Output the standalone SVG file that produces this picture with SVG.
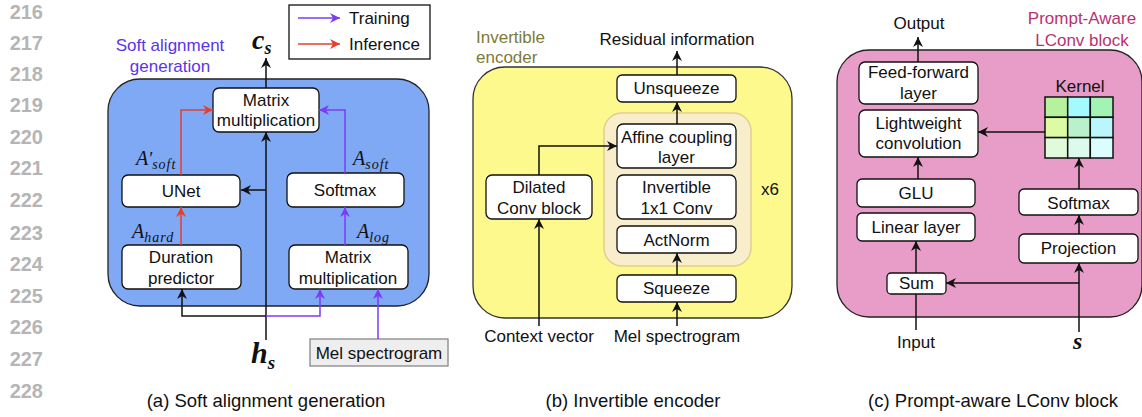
<svg xmlns="http://www.w3.org/2000/svg" width="1142" height="417" viewBox="0 0 1142 417">
<defs>
<style>
.ln{font-family:"Liberation Sans",Arial,sans-serif;font-weight:bold;font-size:20px;fill:#b5b5b5;text-anchor:end}
.t{font-family:"Liberation Sans",Arial,sans-serif;font-size:17px;fill:#111;text-anchor:middle}
.cap{font-family:"Liberation Sans",Arial,sans-serif;font-size:18.5px;fill:#111;text-anchor:middle}
.box{fill:#fff;stroke:#111;stroke-width:1.3}
.m{font-family:"Liberation Serif","Times New Roman",serif;font-style:italic;fill:#111}
.sub{font-size:14px;letter-spacing:1px}
.e{fill:none;stroke:#111;stroke-width:1.5}
.ep{fill:none;stroke:#7b3cf6;stroke-width:1.5}
.er{fill:none;stroke:#e5402e;stroke-width:1.5}
.cell{stroke:#111;stroke-width:1.5}
</style>
<marker id="ak" markerUnits="userSpaceOnUse" markerWidth="12" markerHeight="10" refX="10" refY="5" orient="auto"><path d="M0,0 L10,5 L0,10 L3,5 z" fill="#111"/></marker>
<marker id="ap" markerUnits="userSpaceOnUse" markerWidth="12" markerHeight="10" refX="10" refY="5" orient="auto"><path d="M0,0 L10,5 L0,10 L3,5 z" fill="#7b3cf6"/></marker>
<marker id="ar" markerUnits="userSpaceOnUse" markerWidth="12" markerHeight="10" refX="10" refY="5" orient="auto"><path d="M0,0 L10,5 L0,10 L3,5 z" fill="#e5402e"/></marker>
</defs>
<rect width="1142" height="417" fill="#fff"/>
<g id="line-numbers">
<text class="ln" x="43" y="19">216</text>
<text class="ln" x="43" y="50">217</text>
<text class="ln" x="43" y="81">218</text>
<text class="ln" x="43" y="112">219</text>
<text class="ln" x="43" y="144">220</text>
<text class="ln" x="43" y="175">221</text>
<text class="ln" x="43" y="207">222</text>
<text class="ln" x="43" y="240">223</text>
<text class="ln" x="43" y="271">224</text>
<text class="ln" x="43" y="303">225</text>
<text class="ln" x="43" y="334">226</text>
<text class="ln" x="43" y="366">227</text>
<text class="ln" x="43" y="398">228</text>
</g>
<g id="panel-a">
<rect x="108" y="79" width="321" height="227" rx="32" fill="#7fa8f5" stroke="#222" stroke-width="1.3"/>
<text x="170" y="51" font-family="Liberation Sans,Arial,sans-serif" font-size="17" fill="#5a35e6" text-anchor="middle">Soft alignment</text>
<text x="170" y="72" font-family="Liberation Sans,Arial,sans-serif" font-size="17" fill="#5a35e6" text-anchor="middle">generation</text>
<text class="m" x="252" y="49" font-size="28" font-weight="bold">c<tspan font-size="18" dy="5">s</tspan></text>
<text class="m" x="251" y="363" font-size="30" font-weight="bold">h<tspan font-size="19" dy="6">s</tspan></text>
</g>
<g id="legend">
<rect x="289" y="5" width="141" height="54" fill="#fff" stroke="#111" stroke-width="1.3"/>
<line class="ep" x1="298" y1="18" x2="340" y2="18" marker-end="url(#ap)"/>
<line class="er" x1="298" y1="44" x2="340" y2="44" marker-end="url(#ar)"/>
<text x="349" y="24" font-family="Liberation Sans,Arial,sans-serif" font-size="17" fill="#111">Training</text>
<text x="349" y="50" font-family="Liberation Sans,Arial,sans-serif" font-size="17" fill="#111">Inference</text>
</g>
<g id="node-matmul-top"><rect class="box" x="213" y="88" width="106" height="44" rx="6"/><text class="t" x="266" y="106">Matrix</text><text class="t" x="266" y="126">multiplication</text></g>
<g id="node-unet"><rect class="box" x="122" y="175" width="118" height="32" rx="6"/><text class="t" x="181" y="197">UNet</text></g>
<g id="node-softmax-a"><rect class="box" x="287" y="173" width="117" height="34" rx="6"/><text class="t" x="345" y="196">Softmax</text></g>
<g id="node-duration"><rect class="box" x="122" y="245" width="119" height="44" rx="6"/><text class="t" x="181" y="263">Duration</text><text class="t" x="181" y="284">predictor</text></g>
<g id="node-matmul-bottom"><rect class="box" x="289" y="245" width="119" height="44" rx="6"/><text class="t" x="348" y="263">Matrix</text><text class="t" x="348" y="284">multiplication</text></g>
<g id="node-mel-a"><rect x="310" y="339" width="138" height="27" fill="#eeeeee" stroke="#888" stroke-width="1.3"/><text class="t" x="379" y="359">Mel spectrogram</text></g>
<g id="labels-a">
<text class="m" x="136" y="165" font-size="20">A<tspan font-size="18">′</tspan><tspan class="sub" dy="4">soft</tspan></text>
<text class="m" x="353" y="165" font-size="20">A<tspan class="sub" dy="4">soft</tspan></text>
<text class="m" x="132" y="238" font-size="20">A<tspan class="sub" dy="4">hard</tspan></text>
<text class="m" x="357" y="238" font-size="20">A<tspan class="sub" dy="4">log</tspan></text>
</g>
<g id="panel-b">
<rect x="473" y="67" width="319" height="251" rx="32" fill="#fdf98d" stroke="#333" stroke-width="1.3"/>
<rect x="604" y="113" width="147" height="153" rx="18" fill="#f9eecb" stroke="#e3cd92" stroke-width="1.5"/>
<text x="476" y="43" font-family="Liberation Sans,Arial,sans-serif" font-size="17" fill="#7d7a3a">Invertible</text>
<text x="476" y="63" font-family="Liberation Sans,Arial,sans-serif" font-size="17" fill="#7d7a3a">encoder</text>
<text class="t" x="677" y="45">Residual information</text>
<text x="761" y="195" font-family="Liberation Sans,Arial,sans-serif" font-size="17" fill="#111">x6</text>
<text class="t" x="539" y="342">Context vector</text>
<text class="t" x="677" y="342">Mel spectrogram</text>
</g>
<g id="node-unsqueeze"><rect class="box" x="617" y="75" width="119" height="27" rx="5"/><text class="t" x="676.5" y="94">Unsqueeze</text></g>
<g id="node-affine"><rect class="box" x="617" y="124" width="119" height="44" rx="6"/><text class="t" x="676.5" y="143">Affine coupling</text><text class="t" x="676.5" y="163">layer</text></g>
<g id="node-invconv"><rect class="box" x="617" y="175" width="119" height="44" rx="6"/><text class="t" x="676.5" y="193">Invertible</text><text class="t" x="676.5" y="214">1x1 Conv</text></g>
<g id="node-actnorm"><rect class="box" x="617" y="226" width="119" height="27" rx="5"/><text class="t" x="676.5" y="246">ActNorm</text></g>
<g id="node-squeeze"><rect class="box" x="617" y="275" width="119" height="27" rx="5"/><text class="t" x="676.5" y="294">Squeeze</text></g>
<g id="node-dilated"><rect class="box" x="486" y="175" width="106" height="44" rx="6"/><text class="t" x="539" y="193">Dilated</text><text class="t" x="539" y="214">Conv block</text></g>
<g id="panel-c">
<rect x="837" y="50" width="305" height="267" rx="32" fill="#e89dc8" stroke="#222" stroke-width="1.3"/>
<text class="t" x="919" y="29">Output</text>
<text x="1082" y="24" font-family="Liberation Sans,Arial,sans-serif" font-size="17" fill="#b8326f" text-anchor="middle">Prompt-Aware</text>
<text x="1082" y="46" font-family="Liberation Sans,Arial,sans-serif" font-size="17" fill="#b8326f" text-anchor="middle">LConv block</text>
<text class="t" x="916" y="348">Input</text>
<text class="m" x="1073" y="349" font-size="24" font-weight="bold">s</text>
</g>
<g id="node-ff"><rect class="box" x="859" y="62" width="119" height="42" rx="6"/><text class="t" x="918.5" y="78">Feed-forward</text><text class="t" x="918.5" y="99">layer</text></g>
<g id="node-lconv"><rect class="box" x="859" y="110" width="119" height="47" rx="6"/><text class="t" x="918.5" y="129">Lightweight</text><text class="t" x="918.5" y="149">convolution</text></g>
<g id="node-glu"><rect class="box" x="857" y="179" width="118" height="28" rx="5"/><text class="t" x="916" y="199">GLU</text></g>
<g id="node-linear"><rect class="box" x="857" y="213" width="118" height="28" rx="5"/><text class="t" x="916" y="233">Linear layer</text></g>
<g id="node-sum"><rect class="box" x="887" y="273" width="59" height="21" rx="4"/><text class="t" x="916.5" y="289">Sum</text></g>
<g id="node-softmax-c"><rect class="box" x="1019" y="189" width="119" height="26" rx="5"/><text class="t" x="1078.5" y="209">Softmax</text></g>
<g id="node-projection"><rect class="box" x="1019" y="234" width="119" height="29" rx="5"/><text class="t" x="1078.5" y="254">Projection</text></g>
<g id="node-kernel">
<text class="t" x="1080" y="92">Kernel</text>
<rect class="cell" x="1045" y="97" width="22.7" height="20.3" fill="#b6f29d"/>
<rect class="cell" x="1067.7" y="97" width="22.6" height="20.3" fill="#a4fbff"/>
<rect class="cell" x="1090.3" y="97" width="22.7" height="20.3" fill="#a3f4b4"/>
<rect class="cell" x="1045" y="117.3" width="22.7" height="20.3" fill="#ddfba2"/>
<rect class="cell" x="1067.7" y="117.3" width="22.6" height="20.3" fill="#b8f1cb"/>
<rect class="cell" x="1090.3" y="117.3" width="22.7" height="20.3" fill="#baf6fb"/>
<rect class="cell" x="1045" y="137.6" width="22.7" height="20.4" fill="#e0fbd9"/>
<rect class="cell" x="1067.7" y="137.6" width="22.6" height="20.4" fill="#dcfbed"/>
<rect class="cell" x="1090.3" y="137.6" width="22.7" height="20.4" fill="#dbfdfe"/>
</g>
<g id="connectors">
<line class="e" x1="266" y1="88" x2="266" y2="58" marker-end="url(#ak)"/>
<line class="e" x1="266" y1="340" x2="266" y2="132" marker-end="url(#ak)"/>
<polyline class="e" points="266,190 241,190" marker-end="url(#ak)"/>
<polyline class="er" points="181,175 181,110 213,110" marker-end="url(#ar)"/>
<polyline class="ep" points="345,173 345,110 319,110" marker-end="url(#ap)"/>
<line class="er" x1="181" y1="245" x2="181" y2="207" marker-end="url(#ar)"/>
<line class="ep" x1="345" y1="245" x2="345" y2="207" marker-end="url(#ap)"/>
<polyline class="e" points="266,316 182,316 182,289" marker-end="url(#ak)"/>
<polyline class="ep" points="266,316 320,316 320,289" marker-end="url(#ap)"/>
<line class="ep" x1="378" y1="339" x2="378" y2="289" marker-end="url(#ap)"/>
<line class="e" x1="677" y1="75" x2="677" y2="51" marker-end="url(#ak)"/>
<line class="e" x1="677" y1="124" x2="677" y2="102" marker-end="url(#ak)"/>
<line class="e" x1="677" y1="275" x2="677" y2="253" marker-end="url(#ak)"/>
<line class="e" x1="677" y1="326" x2="677" y2="302" marker-end="url(#ak)"/>
<line class="e" x1="539" y1="326" x2="539" y2="219" marker-end="url(#ak)"/>
<polyline class="e" points="539,175 539,146 617,146" marker-end="url(#ak)"/>
<line class="e" x1="918" y1="62" x2="918" y2="37" marker-end="url(#ak)"/>
<line class="e" x1="918" y1="179" x2="918" y2="157" marker-end="url(#ak)"/>
<line class="e" x1="916" y1="273" x2="916" y2="241" marker-end="url(#ak)"/>
<line class="e" x1="916" y1="330" x2="916" y2="294"/>
<line class="e" x1="1079" y1="332" x2="1079" y2="263" marker-end="url(#ak)"/>
<polyline class="e" points="1079,283 946,283" marker-end="url(#ak)"/>
<line class="e" x1="1079" y1="234" x2="1079" y2="215" marker-end="url(#ak)"/>
<line class="e" x1="1079" y1="189" x2="1079" y2="158" marker-end="url(#ak)"/>
<line class="e" x1="1045" y1="132" x2="978" y2="132" marker-end="url(#ak)"/>
</g>
<g id="captions">
<text class="cap" x="266" y="407">(a) Soft alignment generation</text>
<text class="cap" x="633" y="407">(b) Invertible encoder</text>
<text class="cap" x="993" y="407">(c) Prompt-aware LConv block</text>
</g>
</svg>
